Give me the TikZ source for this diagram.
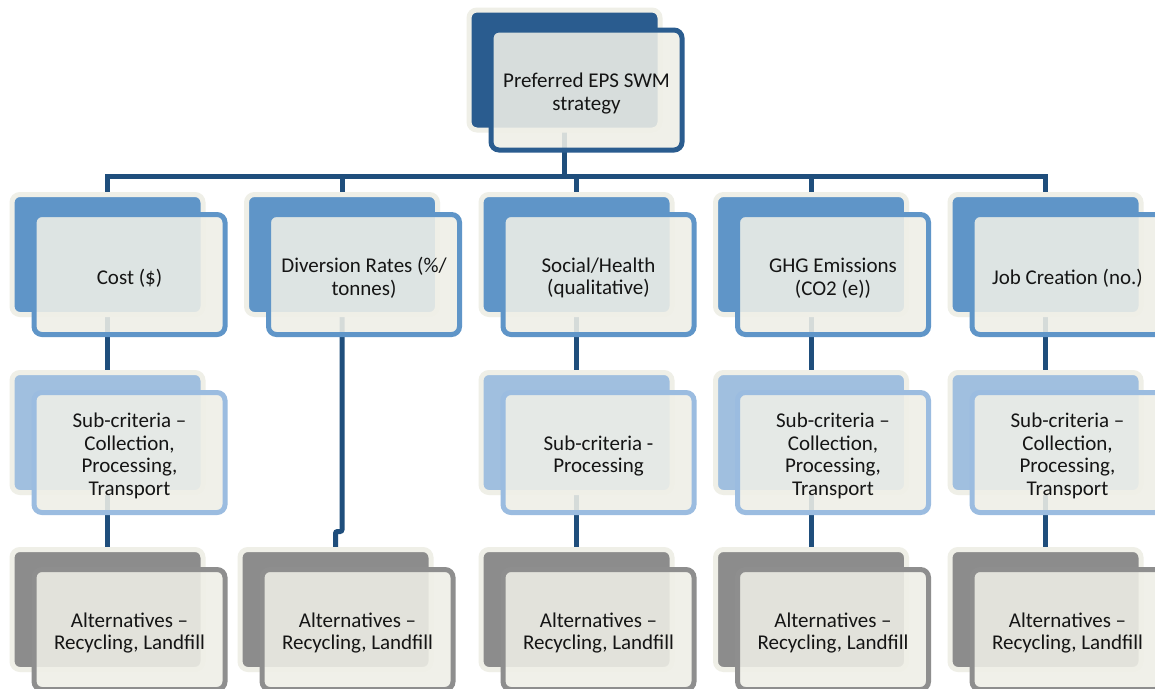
\documentclass[tikz,border=0pt]{standalone}
\usepackage{fontspec}
\setmainfont{Carlito}
\usetikzlibrary{calc}
\definecolor{cream}{HTML}{EFEFE7}
\definecolor{topblue}{HTML}{2A5C8F}
\definecolor{connblue}{HTML}{1F4E7C}
\definecolor{lonebl}{HTML}{5F95C8}
\definecolor{ltwoback}{HTML}{A0BFDF}
\definecolor{ltwofront}{HTML}{9BBCE0}
\definecolor{lthreeback}{HTML}{8C8C8C}
\definecolor{lthreefront}{HTML}{8E8E8E}
\definecolor{txt}{HTML}{151515}
\pgfdeclarelayer{background}
\pgfsetlayers{background,main}
\tikzset{
  backbox/.style={rectangle, rounded corners=8pt, minimum width=191pt, minimum height=120pt,
    line width=5pt, draw=cream, fill=#1, inner sep=0pt},
  frontbox/.style={rectangle, rounded corners=8pt, minimum width=191pt, minimum height=120pt,
    line width=5pt, draw=#1, fill=cream, fill opacity=0.88, draw opacity=1, inner sep=0pt},
  lbl/.style={align=center, inner sep=0pt, text=txt, font=\fontsize{21}{22.5}\selectfont},
  conn/.style={line width=5pt, draw=connblue, line join=miter}
}
% #1 name, #2 cx, #3 cy, #4 back fill, #5 front border, #6 text
\newcommand\myelem[6]{%
  \node[backbox=#4] (#1b) at (#2,#3) {};
  \node[frontbox=#5] (#1) at (#2+22,#3+20) {};
  \node[lbl] (#1t) at (#2+22,#3+23.5) {#6};
}
\begin{document}
\begin{tikzpicture}[x=1pt,y=-1pt]
\useasboundingbox (0,0) rectangle (1155,688);
\clip (0,0) rectangle (1155,688);
\coordinate (bar) at (0,176.5);
\coordinate (jog) at (0,531.5);
% top
\myelem{top}{564.5}{70}{topblue}{topblue}{Preferred EPS SWM\\strategy}
% level 1
\myelem{c1}{107.5}{254.5}{lonebl}{lonebl}{Cost (\$)}
\myelem{c2}{342}{254.5}{lonebl}{lonebl}{Diversion Rates (\%/\\tonnes)}
\myelem{c3}{576.5}{254.5}{lonebl}{lonebl}{Social/Health\\(qualitative)}
\myelem{c4}{811}{254.5}{lonebl}{lonebl}{GHG Emissions\\(CO2 (e))}
\myelem{c5}{1045.5}{254.5}{lonebl}{lonebl}{Job Creation (no.)}
% level 2
\myelem{s1}{107.5}{432.5}{ltwoback}{ltwofront}{Sub-criteria –\\Collection,\\Processing,\\Transport}
\myelem{s3}{576.5}{432.5}{ltwoback}{ltwofront}{Sub-criteria -\\Processing}
\myelem{s4}{811}{432.5}{ltwoback}{ltwofront}{Sub-criteria –\\Collection,\\Processing,\\Transport}
\myelem{s5}{1045.5}{432.5}{ltwoback}{ltwofront}{Sub-criteria –\\Collection,\\Processing,\\Transport}
% level 3
\myelem{a1}{107.5}{609.5}{lthreeback}{lthreefront}{Alternatives –\\Recycling, Landfill}
\myelem{a2}{335.5}{609.5}{lthreeback}{lthreefront}{Alternatives –\\Recycling, Landfill}
\myelem{a3}{576.5}{609.5}{lthreeback}{lthreefront}{Alternatives –\\Recycling, Landfill}
\myelem{a4}{811}{609.5}{lthreeback}{lthreefront}{Alternatives –\\Recycling, Landfill}
\myelem{a5}{1045.5}{609.5}{lthreeback}{lthreefront}{Alternatives –\\Recycling, Landfill}
\begin{pgfonlayer}{background}
  \fill[white] (0,0) rectangle (1155,688);
  \draw[conn] (topb.center) -- (topb.center |- bar);
  \draw[conn] (c1b.center) -- (c1b.center |- bar) -- (c5b.center |- bar) -- (c5b.center);
  \draw[conn] (c2b.center |- bar) -- (c2b.center);
  \draw[conn] (c3b.center |- bar) -- (c3b.center);
  \draw[conn] (c4b.center |- bar) -- (c4b.center);
  \draw[conn] (c1b.center) -- (s1b.center) -- (a1b.center);
  \draw[conn, rounded corners=2pt] (c2b.center) -- (c2b.center |- jog) -| (a2b.center);
  \draw[conn] (c3b.center) -- (s3b.center) -- (a3b.center);
  \draw[conn] (c4b.center) -- (s4b.center) -- (a4b.center);
  \draw[conn] (c5b.center) -- (s5b.center) -- (a5b.center);
\end{pgfonlayer}
\end{tikzpicture}
\end{document}
